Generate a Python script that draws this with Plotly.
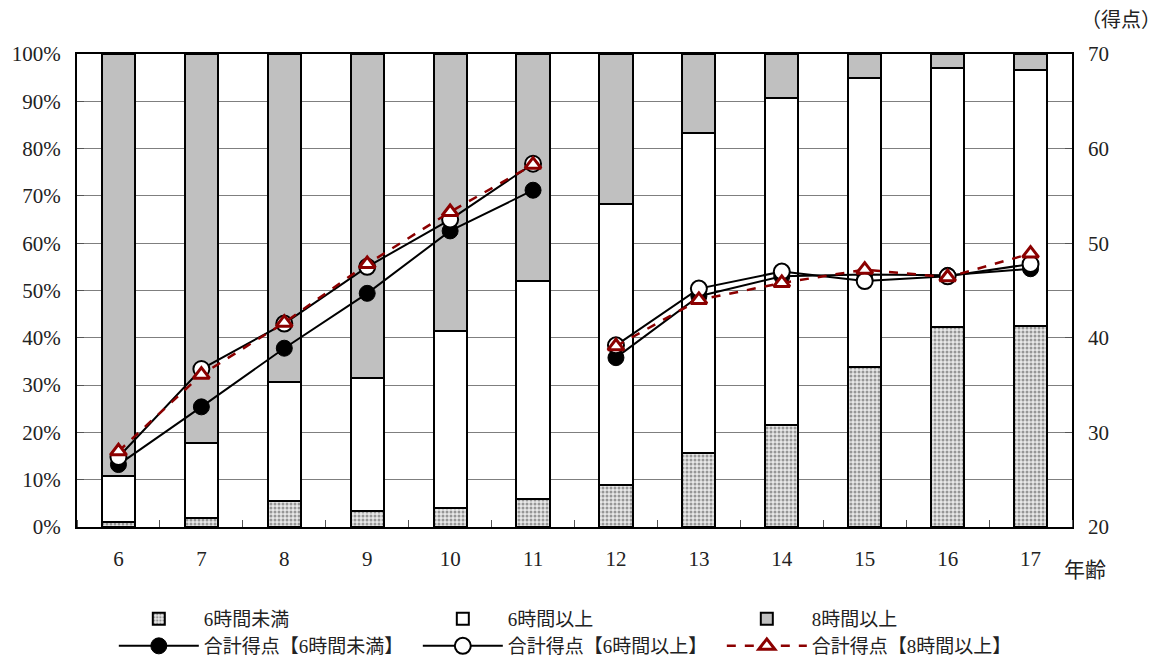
import plotly.graph_objects as go

ages = [6, 7, 8, 9, 10, 11, 12, 13, 14, 15, 16, 17]
# segment shares (%)
under6 = [1.1, 2.0, 5.5, 3.4, 4.1, 6.0, 8.8, 15.6, 21.6, 33.9, 42.3, 42.6]
over6 = [9.7, 15.8, 25.1, 28.0, 37.3, 46.0, 59.5, 67.8, 69.0, 61.0, 54.7, 54.0]
over8 = [89.2, 82.2, 69.4, 68.6, 58.6, 48.0, 31.7, 16.6, 9.4, 5.1, 3.0, 3.4]

score_under6 = [26.6, 32.7, 38.9, 44.7, 51.3, 55.6, 37.9, 44.4, 46.5, 46.7, 46.6, 47.3]
score_over6 = [27.4, 36.7, 41.5, 47.5, 52.5, 58.4, 39.2, 45.2, 47.0, 46.0, 46.5, 47.8]
score_over8 = [28.0, 36.1, 41.6, 47.8, 53.3, 58.3, 39.1, 44.0, 45.8, 47.2, 46.4, 48.9]

left_ticks = [0, 10, 20, 30, 40, 50, 60, 70, 80, 90, 100]
left_labels = [f"{v}%" for v in left_ticks]
right_ticks = [20, 30, 40, 50, 60, 70]

FONT = "Liberation Serif, Noto Sans CJK JP, serif"

W, H = 1170, 665
M_L, M_R, M_T, M_B = 77, 98, 54, 0
PLOT_BOTTOM = 527  # pixel row of the axis baseline
DOM0 = (H - M_B - PLOT_BOTTOM) / (H - M_T - M_B)


def split(xs, ys, brk=11):
    # break the line between elementary (<=11) and secondary (>=12)
    ox, oy = [], []
    for x, y in zip(xs, ys):
        if ox and ox[-1] is not None and ox[-1] <= brk < x:
            ox.append(None)
            oy.append(None)
        ox.append(x)
        oy.append(y)
    return ox, oy


def py(pix):
    # paper y fraction for a pixel row
    return (H - M_B - pix) / (H - M_T - M_B)


fig = go.Figure()
bar_line = dict(color="black", width=2)
fig.add_trace(go.Bar(
    x=ages, y=under6, name="6時間未満", width=0.4, legend="legend",
    marker=dict(color="white", line=bar_line,
                pattern=dict(shape=".", fgcolor="#444444", bgcolor="#e8e8e8",
                             size=4, solidity=0.45)),
))
fig.add_trace(go.Bar(
    x=ages, y=over6, name="6時間以上", width=0.4, legend="legend",
    marker=dict(color="white", line=bar_line),
))
fig.add_trace(go.Bar(
    x=ages, y=over8, name="8時間以上", width=0.4, legend="legend",
    marker=dict(color="#c0c0c0", line=bar_line),
))

x1, y1 = split(ages, score_under6)
fig.add_trace(go.Scatter(
    x=x1, y=y1, yaxis="y2", name="合計得点【6時間未満】", mode="lines+markers", legend="legend2",
    line=dict(color="black", width=2),
    marker=dict(symbol="circle", size=16, color="black", line=dict(color="black", width=1)),
))
x2, y2 = split(ages, score_over6)
fig.add_trace(go.Scatter(
    x=x2, y=y2, yaxis="y2", name="合計得点【6時間以上】", mode="lines+markers", legend="legend2",
    line=dict(color="black", width=2),
    marker=dict(symbol="circle", size=16, color="white", line=dict(color="black", width=2)),
))
x3, y3 = split(ages, score_over8)
fig.add_trace(go.Scatter(
    x=x3, y=y3, yaxis="y2", name="合計得点【8時間以上】", mode="lines+markers", legend="legend2",
    line=dict(color="#8b0000", width=2.5, dash="dash"),
    marker=dict(symbol="triangle-up", size=14, color="white", line=dict(color="#8b0000", width=3)),
))

legend_common = dict(
    orientation="h", x=0.037, xanchor="left",
    entrywidth=209, entrywidthmode="pixels", traceorder="normal",
    font=dict(size=19), itemwidth=80, bgcolor="rgba(0,0,0,0)",
)

fig.update_layout(
    barmode="stack",
    width=W, height=H,
    margin=dict(l=M_L, r=M_R, t=M_T, b=M_B, pad=0),
    plot_bgcolor="white", paper_bgcolor="white",
    font=dict(family=FONT, size=20, color="#222222"),
    xaxis=dict(
        range=[5.5, 17.5], tickvals=ages, ticktext=[str(a) for a in ages],
        ticks="", showgrid=False, showline=True, linecolor="black", linewidth=2,
        mirror=True, zeroline=False, automargin=False, ticklabelstandoff=12,
        anchor="y",
        minor=dict(tick0=5.5, dtick=1, ticks="inside", ticklen=7, tickcolor="#555555", showgrid=False),
        tickfont=dict(size=21),
    ),
    yaxis=dict(
        domain=[DOM0, 1],
        range=[0, 100], tickvals=left_ticks, ticktext=left_labels,
        ticks="inside", ticklen=7, tickcolor="#555555",
        showgrid=True, gridcolor="#7f7f7f", gridwidth=1,
        showline=True, linecolor="black", linewidth=2, mirror=True, zeroline=False,
        automargin=False, ticklabelstandoff=10,
        tickfont=dict(size=21),
    ),
    yaxis2=dict(
        domain=[DOM0, 1],
        range=[20, 70], tickvals=right_ticks, overlaying="y", side="right",
        ticks="inside", ticklen=7, tickcolor="#555555", showgrid=False,
        zeroline=False, tickfont=dict(size=21), ticklabelstandoff=15, automargin=False,
    ),
    legend=dict(y=py(619), yanchor="middle", **legend_common),
    legend2=dict(y=py(665), yanchor="bottom", **legend_common),
    showlegend=True,
)

fig.add_annotation(xref="paper", yref="paper", x=(1163 - M_L) / (W - M_L - M_R), y=py(20),
                   text="（得点）", showarrow=False, font=dict(size=20),
                   xanchor="right", yanchor="middle")
fig.add_annotation(xref="paper", yref="paper", x=0.99, y=py(570), text="年齢",
                   showarrow=False, font=dict(size=21), xanchor="left", yanchor="middle")

fig.write_html("out.html", config={"displayModeBar": False},
               post_script="document.body.style.margin='0px';")
